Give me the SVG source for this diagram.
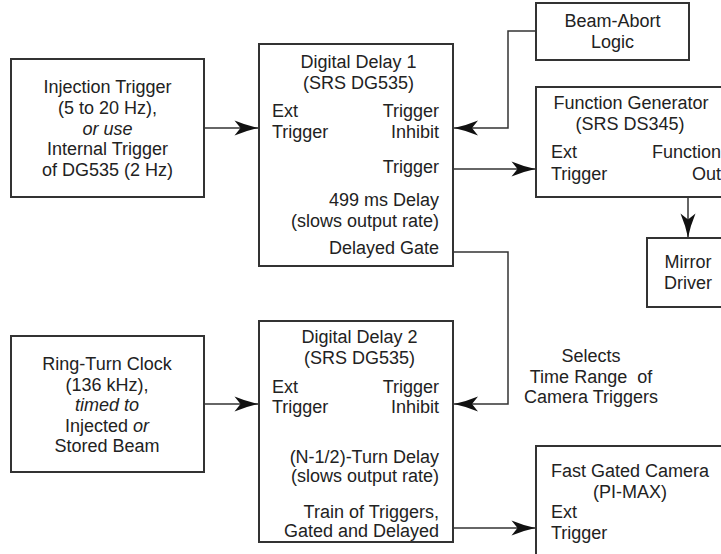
<svg xmlns="http://www.w3.org/2000/svg" width="721" height="554" viewBox="0 0 721 554">
<style>
  .box { fill: #ffffff; stroke: #333333; stroke-width: 2; }
  .t { font-family: "Liberation Sans", Arial, Helvetica, sans-serif; font-size: 18px; fill: #222222; }
  .c { text-anchor: middle; }
  .r { text-anchor: end; }
  .i { font-style: italic; }
  .wire { fill: none; stroke: #333333; stroke-width: 1.5; marker-end: url(#ah); }
</style>
<defs>
  <marker id="ah" markerUnits="userSpaceOnUse" viewBox="-25 -8 26 16" markerWidth="26" markerHeight="16" refX="0" refY="0" orient="auto">
    <path d="M0,0 Q-12,-2.5 -24,-7.5 L-18,0 L-24,7.5 Q-12,2.5 0,0 Z" fill="#111111"/>
  </marker>
</defs>
<rect width="721" height="554" fill="#ffffff"/>

<g id="connectors">
  <path class="wire" d="M204,128 H258.5"/>
  <path class="wire" d="M536,31 H508 V128 H454"/>
  <path class="wire" d="M453,169 H535.5"/>
  <path class="wire" d="M688,197 V237.5"/>
  <path class="wire" d="M453,252 H508 V404 H454"/>
  <path class="wire" d="M204,404 H258.5"/>
  <path class="wire" d="M453,528 H535.5"/>
</g>

<g id="injection">
  <rect class="box" x="11" y="59" width="193" height="138"/>
  <text class="t c" x="107.5" y="93.3">Injection Trigger</text>
  <text class="t c" x="107.5" y="113.9">(5 to 20 Hz),</text>
  <text class="t c i" x="107.5" y="134.5">or use</text>
  <text class="t c" x="107.5" y="155.1">Internal Trigger</text>
  <text class="t c" x="107.5" y="175.7">of DG535 (2 Hz)</text>
</g>

<g id="delay1">
  <rect class="box" x="259" y="44" width="194" height="222"/>
  <text class="t c" x="358.5" y="68">Digital Delay 1</text>
  <text class="t c" x="358.5" y="89">(SRS DG535)</text>
  <text class="t" x="272" y="117">Ext</text>
  <text class="t" x="272" y="138">Trigger</text>
  <text class="t r" x="439" y="117">Trigger</text>
  <text class="t r" x="439" y="138">Inhibit</text>
  <text class="t r" x="439" y="173">Trigger</text>
  <text class="t r" x="439" y="206">499 ms Delay</text>
  <text class="t r" x="439" y="227">(slows output rate)</text>
  <text class="t r" x="439" y="254">Delayed Gate</text>
</g>

<g id="beamabort">
  <rect class="box" x="536" y="3" width="153" height="57"/>
  <text class="t c" x="612.5" y="27">Beam-Abort</text>
  <text class="t c" x="612.5" y="48">Logic</text>
</g>

<g id="funcgen">
  <rect class="box" x="536" y="87" width="200" height="110"/>
  <text class="t c" x="631" y="109">Function Generator</text>
  <text class="t c" x="630" y="130">(SRS DS345)</text>
  <text class="t" x="551" y="158">Ext</text>
  <text class="t" x="551" y="180">Trigger</text>
  <text class="t r" x="721" y="158">Function</text>
  <text class="t r" x="721" y="180">Out</text>
</g>

<g id="mirror">
  <rect class="box" x="647" y="238" width="90" height="69"/>
  <text class="t c" x="688" y="268">Mirror</text>
  <text class="t c" x="688" y="289">Driver</text>
</g>

<g id="ringturn">
  <rect class="box" x="11" y="336" width="193" height="136"/>
  <text class="t c" x="107" y="370">Ring-Turn Clock</text>
  <text class="t c" x="107" y="390.6">(136 kHz),</text>
  <text class="t c i" x="107" y="411.2">timed to</text>
  <text class="t c" x="107" y="431.8">Injected <tspan class="i">or</tspan></text>
  <text class="t c" x="107" y="452.4">Stored Beam</text>
</g>

<g id="delay2">
  <rect class="box" x="259" y="321" width="194" height="221"/>
  <text class="t c" x="359.5" y="343.3">Digital Delay 2</text>
  <text class="t c" x="359.5" y="364">(SRS DG535)</text>
  <text class="t" x="272" y="392.7">Ext</text>
  <text class="t" x="272" y="412.7">Trigger</text>
  <text class="t r" x="439" y="392.7">Trigger</text>
  <text class="t r" x="439" y="412.7">Inhibit</text>
  <text class="t r" x="439" y="462.7">(N-1/2)-Turn Delay</text>
  <text class="t r" x="439" y="481.7">(slows output rate)</text>
  <text class="t r" x="439" y="518.3">Train of Triggers,</text>
  <text class="t r" x="439" y="536.7">Gated and Delayed</text>
</g>

<g id="selects-label">
  <text class="t c" x="591" y="361.7">Selects</text>
  <text class="t c" x="591" y="383.3" xml:space="preserve" style="white-space:pre">Time Range  of</text>
  <text class="t c" x="591" y="402.7">Camera Triggers</text>
</g>

<g id="camera">
  <rect class="box" x="536" y="446" width="200" height="120"/>
  <text class="t" x="551" y="476.7">Fast Gated Camera</text>
  <text class="t c" x="630" y="497.7">(PI-MAX)</text>
  <text class="t" x="551" y="518">Ext</text>
  <text class="t" x="551" y="539.3">Trigger</text>
</g>
</svg>
